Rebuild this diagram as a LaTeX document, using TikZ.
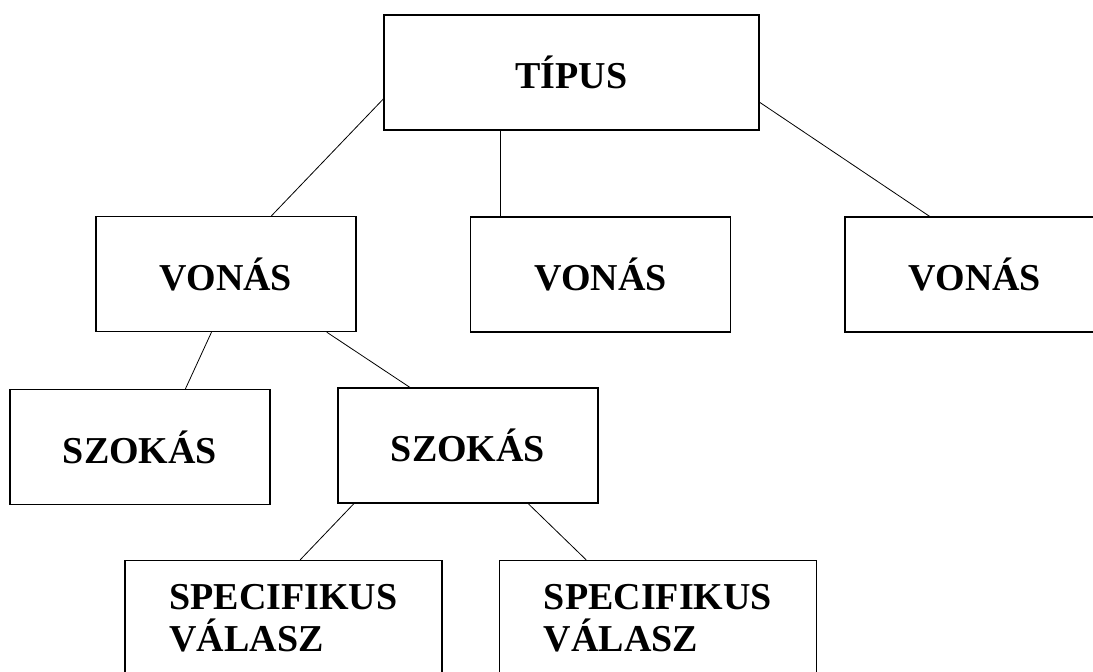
\documentclass[tikz,border=0pt]{standalone}
\usepackage{fontspec}
\setmainfont{Liberation Serif}
\tikzstyle{box}=[draw, rectangle, line width=1.3pt, minimum width=260pt, minimum height=115pt, font=\fontsize{38}{42}\selectfont\bfseries]
\tikzstyle{wide}=[minimum width=317pt, align=left]
\tikzstyle{link}=[line width=0.8pt]

\begin{document}
\begin{tikzpicture}[x=1pt,y=-1pt]
  \clip (0,0) rectangle (1093,672);
  \fill[white] (0,0) rectangle (1093,672);
  \draw (571.5,72.5) node[box,minimum width=375pt] (T) {TÍPUS};

  \draw (226,274) node[box] (V1) {VONÁS};
  \draw (600.5,274.5) node[box] (V2) {VONÁS};
  \draw (975,274.5) node[box] (V3) {VONÁS};

  \draw (140,447) node[box] (S1) {SZOKÁS};
  \draw (468,445.5) node[box] (S2) {SZOKÁS};

  \draw (283.5,618) node[box,wide] (R1) {SPECIFIKUS\\VÁLASZ};
  \draw (658,618) node[box,wide] (R2) {SPECIFIKUS\\VÁLASZ};

  \draw[link] (T.188.9) -- (V1.52.8);
  \draw[link] ([xshift=-100.5pt]V2.north |- T.south) -- ([xshift=-100.5pt]V2.north);
  \draw[link] (T.351.1) -- (V3.128);

  \draw[link] (V1.256.4) -- (S1.52.8);
  \draw[link] (V1.330.6) -- (S2.135.7);

  \draw[link] (S2.207.2) -- (R1.74);
  \draw[link] (S2.316.2) -- (R2.141.8);
\end{tikzpicture}
\end{document}
